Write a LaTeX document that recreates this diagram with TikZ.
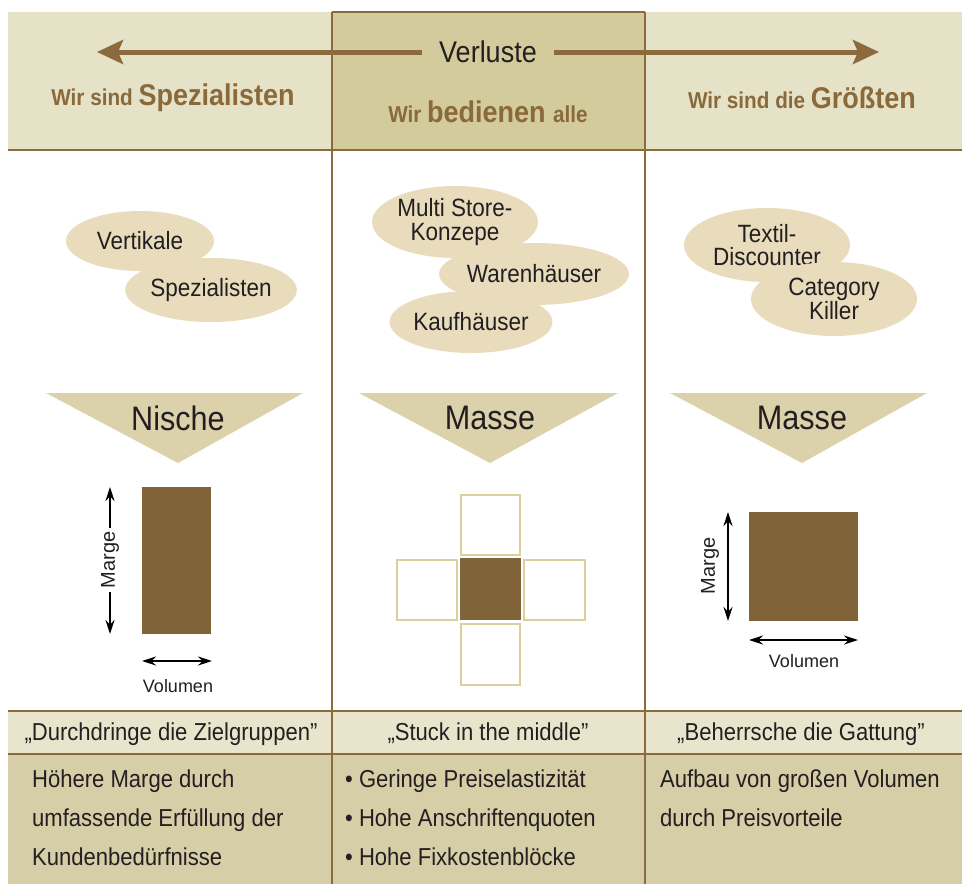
\documentclass[tikz,border=0pt]{standalone}
\usepackage{fontspec}
\setmainfont{Liberation Sans}
\newfontfamily\cf[FakeStretch=0.9]{Liberation Sans}
\usetikzlibrary{shapes.geometric,arrows.meta}
\definecolor{brn}{HTML}{806339}
\definecolor{linec}{HTML}{8B6B3D}
\definecolor{hdrtxt}{HTML}{8A6A3A}
\definecolor{hdrlight}{HTML}{E6E2C8}
\definecolor{hdrdark}{HTML}{D3CB9C}
\definecolor{ellc}{HTML}{E8DCBC}
\definecolor{tric}{HTML}{DBD2AC}
\definecolor{quotec}{HTML}{E9E5CD}
\definecolor{botc}{HTML}{D6CEA6}
\definecolor{boxc}{HTML}{D9CF9F}
\definecolor{txt}{HTML}{231F20}
\tikzset{
  sep/.style={draw=linec, line width=2pt},
  ell/.style={ellipse, fill=ellc, inner sep=0pt, text=txt, font=\cf\fontsize{25}{23.5}\selectfont, align=center},
  hdr/.style={text=hdrtxt, font=\cf\bfseries, inner sep=0pt},
  harrow/.style={draw=linec, line width=5pt, -{Stealth[length=26pt,width=24pt,inset=5pt]}},
  tri/.style={fill=tric},
  trilabel/.style={text=txt, font=\cf\fontsize{34}{40}\selectfont, inner sep=0pt},
  darr/.style={draw=black, line width=1.2pt, {Stealth[length=14pt,width=9pt]}-{Stealth[length=14pt,width=9pt]}},
  small/.style={text=txt, font=\fontsize{18}{22}\selectfont, inner sep=1pt},
  body/.style={text=txt, font=\cf\fontsize{24.5}{29}\selectfont, inner sep=0pt},
  outbox/.style={draw=boxc, line width=2.5pt, fill=white}
}
\begin{document}
\begin{tikzpicture}[x=1pt,y=-1pt]
\useasboundingbox (0,0) rectangle (962,884);
\fill[white] (0,0) rectangle (962,884);
% header backgrounds
\fill[hdrlight] (8,12) rectangle (332,150);
\fill[hdrlight] (645,12) rectangle (962,150);
\fill[hdrdark] (332,12) rectangle (645,150);
\draw[sep] (332,12) -- (645,12);
% quote row and bottom row
\fill[quotec] (8,711) rectangle (962,754);
\fill[botc] (8,754) rectangle (962,884);
\draw[sep] (8,150) -- (962,150);
\draw[sep] (8,711) -- (962,711);
\draw[sep] (8,754) -- (962,754);
\draw[sep] (332,12) -- (332,884);
\draw[sep] (645,12) -- (645,884);

% header arrow and titles
\node[text=txt, font=\cf\fontsize{30}{36}\selectfont, inner xsep=17pt, inner ysep=0pt] (verl) at (488,52) {Verluste};
\coordinate (aL) at (97,52);
\coordinate (aR) at (879,52);
\draw[harrow] (verl.west) -- (aL);
\draw[harrow] (verl.east) -- (aR);
\node[hdr] (h1) at (173,98) {\fontsize{23}{28}\selectfont Wir sind \fontsize{30}{36}\selectfont Spezialisten};
\node[hdr] (h2) at (488,112) {\fontsize{23}{28}\selectfont Wir \fontsize{30}{36}\selectfont bedienen \fontsize{23}{28}\selectfont alle};
\node[hdr] (h3) at (802,98) {\fontsize{23}{28}\selectfont Wir sind die \fontsize{30}{36}\selectfont Größten};

% ellipses
\node[ell, minimum width=148pt, minimum height=60pt] (e1) at (140,241) {Vertikale};
\node[ell, minimum width=148pt, minimum height=64pt] (e2) at (211,290) {Spezialisten};
\node[ell, minimum width=166pt, minimum height=72pt] (e3) at (455,222) {Multi Store-\\Konzepe};
\node[ell, minimum width=148pt, minimum height=62pt] (e4) at (534,274) {Warenhäuser};
\node[ell, minimum width=148pt, minimum height=62pt] (e5) at (471,322) {Kaufhäuser};
\node[ell, minimum width=166pt, minimum height=74pt] (e6) at (767,245) {Textil-\\Discounter};
\node[ell, minimum width=166pt, minimum height=74pt] (e7) at (834,299) {Category\\Killer};

% triangles
\fill[tri] (46,393) -- (303,393) -- (178,463) -- cycle;
\fill[tri] (359,393) -- (618,393) -- (490,463) -- cycle;
\fill[tri] (670,393) -- (927,393) -- (802,463) -- cycle;
\node[trilabel] (t1) at (178,418) {Nische};
\node[trilabel] (t2) at (490,418) {Masse};
\node[trilabel] (t3) at (802,418) {Masse};

% left: niche
\fill[brn] (142,487) rectangle (211,634);
\coordinate (mLt) at (110,487);
\coordinate (mLb) at (110,634);
\draw[darr] (mLt) -- (mLb);
\node[small, font=\fontsize{20}{24}\selectfont, fill=white, rotate=90, inner xsep=4pt] (mL) at (110,560) {Marge};
\coordinate (vLl) at (142,661);
\coordinate (vLr) at (212,661);
\draw[darr] (vLl) -- (vLr);
\node[small] (vL) at (178,686) {Volumen};

% middle: stuck in the middle
\fill[brn] (460,558) rectangle (521,620);
\draw[outbox] (461,495) rectangle (520,555);
\draw[outbox] (461,624) rectangle (520,685);
\draw[outbox] (397,560) rectangle (457,620);
\draw[outbox] (524,560) rectangle (585,620);

% right: biggest
\fill[brn] (749,512) rectangle (858,621);
\coordinate (mRt) at (728,512);
\coordinate (mRb) at (728,621);
\draw[darr] (mRt) -- (mRb);
\node[small, font=\fontsize{20}{24}\selectfont, rotate=90] (mR) at (710,566) {Marge};
\coordinate (vRl) at (749,640);
\coordinate (vRr) at (858,640);
\draw[darr] (vRl) -- (vRr);
\node[small] (vR) at (804,661) {Volumen};

% quote row
\node[body, anchor=base] (q1) at (171,740) {„Durchdringe die Zielgruppen”};
\node[body, anchor=base] (q2) at (488,740) {„Stuck in the middle”};
\node[body, anchor=base] (q3) at (801,740) {„Beherrsche die Gattung”};

% bottom row
\node[body, anchor=base west] (b11) at (32,787) {Höhere Marge durch};
\node[body, anchor=base west] (b12) at (32,826) {umfassende Erfüllung der};
\node[body, anchor=base west] (b13) at (32,865) {Kundenbedürfnisse};
\node[body, anchor=base west] (b21) at (345,787) {• Geringe Preiselastizität};
\node[body, anchor=base west] (b22) at (345,826) {• Hohe Anschriftenquoten};
\node[body, anchor=base west] (b23) at (345,865) {• Hohe Fixkostenblöcke};
\node[body, anchor=base west] (b31) at (660,787) {Aufbau von großen Volumen};
\node[body, anchor=base west] (b32) at (660,826) {durch Preisvorteile};
\end{tikzpicture}
\end{document}
